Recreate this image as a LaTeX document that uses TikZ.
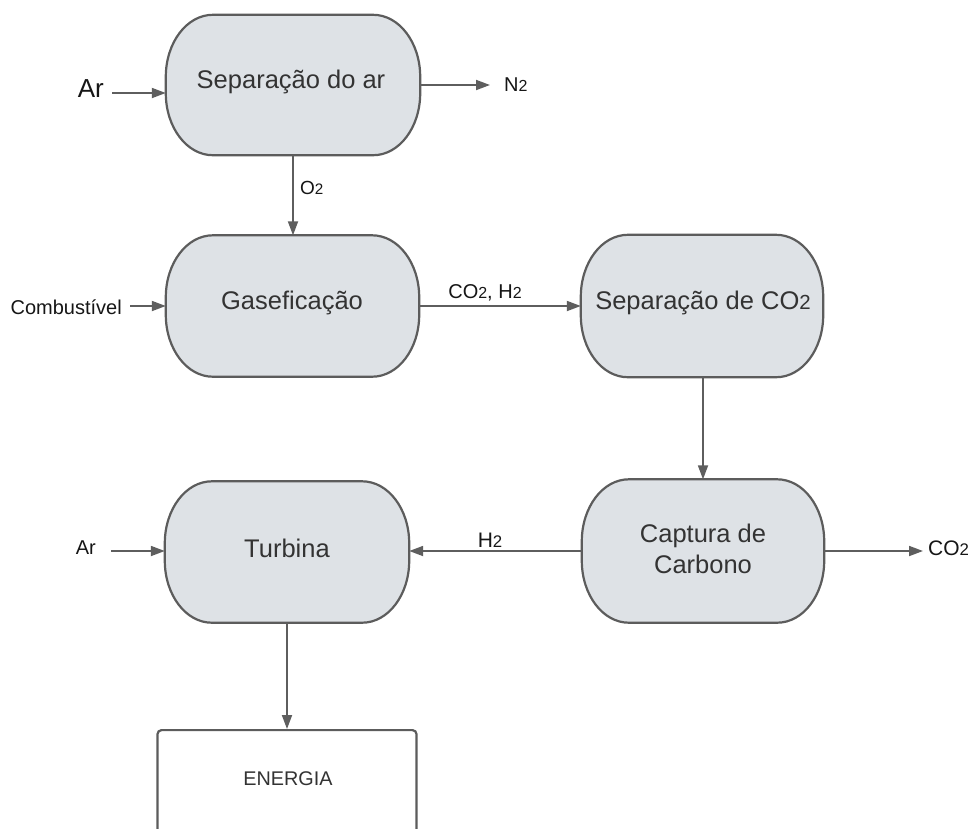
\documentclass[tikz,border=0pt]{standalone}
\usepackage{fontspec}
\setmainfont{Liberation Sans}
\usetikzlibrary{arrows.meta,calc}
\pgfdeclarelayer{background}
\pgfsetlayers{background,main}

\definecolor{boxfill}{HTML}{DEE2E6}
\definecolor{boxline}{HTML}{5C5C5C}
\definecolor{flowline}{HTML}{5E5E5E}
\definecolor{boxtext}{HTML}{333333}
\definecolor{labeltext}{HTML}{161616}

% small "2" set on the baseline, as in the chemical formulas
\newcommand{\smtwo}{\scalebox{0.8}{2}}

% outline with half-elliptical ends, drawn behind the named node
\newcommand{\stadium}[1]{%
  \begin{pgfonlayer}{background}
    \path[stadiumline]
      ($(#1.north west)+(47pt,0pt)$) -- ($(#1.north east)+(-47pt,0pt)$)
      arc[start angle=90,end angle=0,x radius=47pt,y radius=62pt]
      -- ($(#1.south east)+(0pt,62pt)$)
      arc[start angle=0,end angle=-90,x radius=47pt,y radius=62pt]
      -- ($(#1.south west)+(47pt,0pt)$)
      arc[start angle=270,end angle=180,x radius=47pt,y radius=62pt]
      -- ($(#1.north west)+(0pt,-62pt)$)
      arc[start angle=180,end angle=90,x radius=47pt,y radius=62pt]
      -- cycle;
  \end{pgfonlayer}}

\tikzset{
  stadiumline/.style={draw=boxline,fill=boxfill,line width=2.2pt},
  procbox/.style={rectangle,inner sep=0pt,align=center,text=boxtext,
    font=\fontsize{25.5}{31}\selectfont},
  outbox/.style={rectangle,draw=boxline,line width=2.2pt,rounded corners=4pt,
    fill=white,inner sep=0pt},
  flow/.style={draw=flowline,line width=1.8pt,
    -{Triangle[length=14pt,width=10pt]}},
  tag/.style={inner sep=0pt,text=labeltext},
}

\begin{document}
\begin{tikzpicture}[x=1pt,y=-1pt]
\useasboundingbox (0,0) rectangle (976,828);
\clip (0,0) rectangle (976,828);
\begin{pgfonlayer}{background}
  \fill[white] (0,0) rectangle (976,828);
\end{pgfonlayer}

% process steps
\node[procbox,minimum width=254pt,minimum height=140pt] (sep) at (293,85) {};
\node[procbox] at (291,82) {Separação do ar};
\node[procbox,minimum width=253pt,minimum height=141pt] (gas) at (292.5,306) {};
\node[procbox] at (292,303) {Gaseficação};
\node[procbox,minimum width=242pt,minimum height=142pt] (sepco) at (702,306) {};
\node[procbox] at (703,303) {Separação de CO\smtwo};
\node[procbox,minimum width=242pt,minimum height=143pt] (cap) at (703,551) {};
\node[procbox] at (703,549) {Captura de\\Carbono};
\node[procbox,minimum width=244pt,minimum height=141pt] (tur) at (287,552) {};
\node[procbox] at (287,548) {Turbina};
\stadium{sep}
\stadium{gas}
\stadium{sepco}
\stadium{cap}
\stadium{tur}

% output box
\node[outbox,minimum width=259pt,minimum height=160pt,anchor=north] (ener) at (287,729) {};
\node[tag,text=boxtext,font=\fontsize{19.8}{24}\selectfont] at (288,779) {ENERGIA};

% free ends of the connectors
\coordinate (arA) at (112,93);
\coordinate (nOut) at (490,85);
\coordinate (comb) at (130,306);
\coordinate (coOut) at (923,551);
\coordinate (arB) at (111,551);

% outer labels
\node[tag,font=\fontsize{26}{30}\selectfont,anchor=east] at (104,89) {Ar};
\node[tag,font=\fontsize{20}{24}\selectfont,anchor=west] at (504,85) {N\smtwo};
\node[tag,font=\fontsize{19}{23}\selectfont,anchor=west] at (300,188) {O\smtwo};
\node[tag,font=\fontsize{20}{24}\selectfont,anchor=east] at (122,307) {Combustível};
\node[tag,font=\fontsize{20}{24}\selectfont] at (485,293) {CO\smtwo, H\smtwo};
\node[tag,font=\fontsize{21}{25}\selectfont] at (490,540) {H\smtwo};
\node[tag,font=\fontsize{21}{25}\selectfont,anchor=west] at (928,548) {CO\smtwo};
\node[tag,font=\fontsize{20}{24}\selectfont,anchor=east] at (96,548) {Ar};

% connectors
\draw[flow] (arA) -- (arA -| sep.west);
\draw[flow] (sep.east) -- (nOut);
\draw[flow] (sep.south) -- (sep.south |- gas.north);
\draw[flow] (comb) -- (comb -| gas.west);
\draw[flow] (gas.east) -- (gas.east -| sepco.west);
\draw[flow] (cap.north |- sepco.south) -- (cap.north);
\draw[flow] (cap.west) -- (cap.west -| tur.east);
\draw[flow] (cap.east) -- (coOut);
\draw[flow] (arB) -- (arB -| tur.west);
\draw[flow] (tur.south) -- (tur.south |- ener.north);
\end{tikzpicture}
\end{document}
